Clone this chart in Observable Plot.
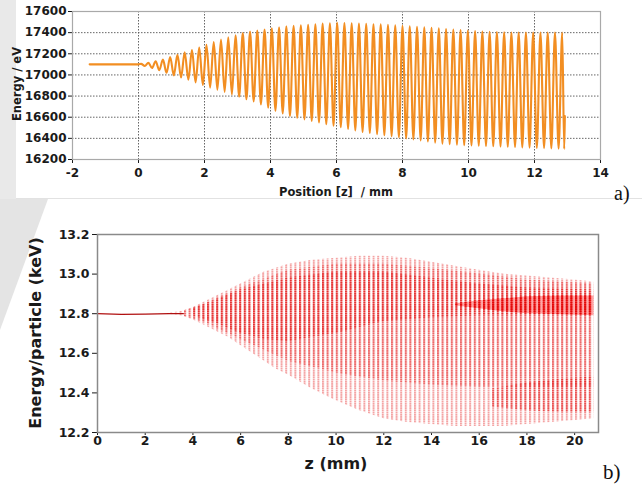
<!DOCTYPE html>
<html>
<head>
<meta charset="utf-8">
<script src="https://cdn.jsdelivr.net/npm/d3@7"></script>
<script src="https://cdn.jsdelivr.net/npm/@observablehq/plot@0.6"></script>
<style>
  html, body { margin: 0; padding: 0; background: #fff; }
  #page { position: relative; width: 642px; height: 485px; overflow: hidden; background: #fff; }
  .abs { position: absolute; left: 0; top: 0; }
  #boxA { position: absolute; left: 16px; top: 0; width: 626px; height: 198px; background: #fff; border-bottom: 1px solid #e2e2e2; }
  #plotA { position: absolute; left: 0; top: 0; }
  #plotB { position: absolute; left: 0; top: 205px; }
  #overlay { position: absolute; left: 0; top: 0; pointer-events: none; }
</style>
</head>
<body>
<div id="page">
  <svg class="abs" width="642" height="485">
    <polygon points="0,0 16,0 16,199 0,199" fill="#e9e9e9"/>
    <polygon points="0,199 48,199 0,330" fill="#e4e4e4"/>
  </svg>
  <div id="boxA"></div>
  <div id="plotA"></div>
  <div id="plotB"></div>
  <svg id="overlay" width="642" height="485"></svg>
</div>
<script>
// ---------- Panel a data ----------
const aXTicks = [-2, 0, 2, 4, 6, 8, 10, 12, 14];
const aYTicks = [16200, 16400, 16600, 16800, 17000, 17200, 17400, 17600];

const aFlatZ = [-1.48, 0.0];
const aFlatE = [17100, 17100];

const aPeakZ = [0.08, 0.30, 0.52, 0.74, 0.96, 1.18, 1.40, 1.62, 1.84, 2.06, 2.28, 2.50, 2.72, 2.94, 3.16, 3.38, 3.60, 3.82, 4.04, 4.26, 4.48, 4.70, 4.92, 5.14, 5.36, 5.58, 5.80, 6.02, 6.24, 6.46, 6.68, 6.90, 7.12, 7.34, 7.56, 7.78, 8.00, 8.22, 8.44, 8.66, 8.88, 9.10, 9.32, 9.54, 9.76, 9.98, 10.20, 10.42, 10.64, 10.86, 11.08, 11.30, 11.52, 11.74, 11.96, 12.18, 12.40, 12.62, 12.84];
const aPeakE = [17105, 17115, 17130, 17145, 17170, 17190, 17215, 17235, 17260, 17285, 17310, 17335, 17355, 17375, 17395, 17410, 17420, 17430, 17440, 17450, 17460, 17465, 17470, 17475, 17480, 17485, 17488, 17492, 17490, 17488, 17485, 17483, 17480, 17478, 17475, 17470, 17465, 17460, 17455, 17450, 17445, 17440, 17435, 17430, 17425, 17420, 17415, 17410, 17408, 17405, 17403, 17400, 17400, 17400, 17400, 17400, 17400, 17400, 17400];

const aTroughZ = [0.19, 0.41, 0.63, 0.85, 1.07, 1.29, 1.51, 1.73, 1.95, 2.17, 2.39, 2.61, 2.83, 3.05, 3.27, 3.49, 3.71, 3.93, 4.15, 4.37, 4.59, 4.81, 5.03, 5.25, 5.47, 5.69, 5.91, 6.13, 6.35, 6.57, 6.79, 7.01, 7.23, 7.45, 7.67, 7.89, 8.11, 8.33, 8.55, 8.77, 8.99, 9.21, 9.43, 9.65, 9.87, 10.09, 10.31, 10.53, 10.75, 10.97, 11.19, 11.41, 11.63, 11.85, 12.07, 12.29, 12.51, 12.73, 12.90];
const aTroughE = [17085, 17065, 17045, 17020, 16995, 16975, 16955, 16930, 16905, 16880, 16860, 16840, 16815, 16795, 16770, 16750, 16720, 16690, 16660, 16635, 16610, 16595, 16580, 16565, 16550, 16535, 16520, 16505, 16490, 16475, 16460, 16450, 16440, 16430, 16420, 16410, 16400, 16390, 16380, 16370, 16360, 16350, 16345, 16340, 16335, 16332, 16330, 16328, 16325, 16322, 16320, 16318, 16315, 16313, 16310, 16308, 16305, 16303, 16300];

const aEndZ = [12.92];
const aEndE = [16610];

// ---------- Panel b data ----------
const bXTicks = [0, 2, 4, 6, 8, 10, 12, 14, 16, 18, 20];
const bYTicks = [12.2, 12.4, 12.6, 12.8, 13.0, 13.2];

const bFlatZ = [0.0, 1.0, 2.0, 3.0, 3.6];
const bFlatE = [12.800, 12.797, 12.798, 12.800, 12.800];

const bEnvZ    = [3.0, 3.5, 4.0, 4.5, 5.0, 5.5, 6.0, 6.5, 7.0, 7.5, 8.0, 9.0, 10.0, 11.0, 12.0, 13.0, 14.0, 15.0, 16.0, 17.0, 18.0, 19.0, 20.0, 20.8];
const bEnvHigh = [12.803, 12.81, 12.83, 12.86, 12.89, 12.92, 12.95, 12.98, 13.01, 13.03, 13.05, 13.07, 13.08, 13.09, 13.09, 13.08, 13.06, 13.04, 13.02, 13.00, 12.99, 12.98, 12.97, 12.96];
const bEnvLow  = [12.797, 12.79, 12.77, 12.74, 12.71, 12.68, 12.64, 12.60, 12.56, 12.52, 12.49, 12.42, 12.36, 12.31, 12.27, 12.25, 12.24, 12.23, 12.23, 12.23, 12.24, 12.25, 12.26, 12.27];

const bMidZ    = [3.5, 4.5, 6.0, 8.0, 10.0, 12.0, 14.0, 16.0, 18.0, 20.8];
const bMidHigh = [12.808, 12.85, 12.93, 13.02, 13.05, 13.05, 13.03, 13.00, 12.97, 12.95];
const bMidLow  = [12.792, 12.755, 12.67, 12.56, 12.50, 12.46, 12.44, 12.43, 12.43, 12.43];

const bCoreZ    = [4.0, 5.0, 6.0, 7.0, 8.0, 10.0, 12.0, 14.0, 16.0, 18.0, 20.8];
const bCoreHigh = [12.825, 12.87, 12.92, 12.95, 12.98, 13.01, 13.01, 12.98, 12.95, 12.93, 12.92];
const bCoreLow  = [12.79, 12.75, 12.70, 12.67, 12.66, 12.70, 12.76, 12.78, 12.79, 12.79, 12.79];

const bBandZ    = [15.0, 16.0, 17.0, 18.0, 19.5, 20.8];
const bBandHigh = [12.85, 12.865, 12.875, 12.885, 12.89, 12.89];
const bBandLow  = [12.84, 12.825, 12.81, 12.80, 12.795, 12.79];

const bLowZ    = [16.5, 18.0, 19.5, 20.8];
const bLowHigh = [12.42, 12.45, 12.47, 12.48];
const bLowLow  = [12.33, 12.31, 12.30, 12.30];

// ---------- build tables ----------
const aPoints = []
  .concat(aFlatZ.map((z, i) => ({z, e: aFlatE[i]})))
  .concat(aPeakZ.map((z, i) => ({z, e: aPeakE[i]})))
  .concat(aTroughZ.map((z, i) => ({z, e: aTroughE[i]})))
  .concat(aEndZ.map((z, i) => ({z, e: aEndE[i]})))
  .sort((p, q) => p.z - q.z);

const band = (Z, H, L) => Z.map((z, i) => ({z, hi: H[i], lo: L[i]}));
const bEnv = band(bEnvZ, bEnvHigh, bEnvLow);
const bMid = band(bMidZ, bMidHigh, bMidLow);
const bCore = band(bCoreZ, bCoreHigh, bCoreLow);
const bBand = band(bBandZ, bBandHigh, bBandLow);
const bLow = band(bLowZ, bLowHigh, bLowLow);
const bFlat = bFlatZ.map((z, i) => ({z, e: bFlatE[i]}));

const fmt = d => String(d);

// ---------- Panel a ----------
const plotA = Plot.plot({
  width: 642, height: 205,
  marginLeft: 72, marginRight: 42, marginTop: 11, marginBottom: 46,
  style: {fontFamily: "DejaVu Sans", fontSize: "12px", fontWeight: "bold", color: "#1a1a1a", background: "transparent"},
  x: {domain: [-2, 14], ticks: aXTicks, tickSize: 4, tickPadding: 5, tickFormat: fmt, label: null},
  y: {domain: [16200, 17600], ticks: aYTicks, tickSize: 4, tickPadding: 2, tickFormat: fmt, label: null},
  marks: [
    Plot.frame({fill: "#fff", stroke: "none"}),
    Plot.gridX(aXTicks, {stroke: "#555", strokeOpacity: 0.9, strokeDasharray: "1.5,1.5"}),
    Plot.gridY(aYTicks, {stroke: "#555", strokeOpacity: 0.9, strokeDasharray: "1.5,1.5"}),
    Plot.line(aPoints, {x: "z", y: "e", stroke: "#f28e22", strokeWidth: 2.1, curve: "monotone-x"}),
    Plot.frame({stroke: "#a9a9a9", strokeWidth: 1.2})
  ]
});
document.getElementById("plotA").appendChild(plotA);

// ---------- Panel b ----------
const plotB = Plot.plot({
  width: 642, height: 280,
  marginLeft: 97, marginRight: 44, marginTop: 29, marginBottom: 53,
  style: {fontFamily: "DejaVu Sans", fontSize: "12.5px", fontWeight: "bold", color: "#1a1a1a", background: "transparent"},
  x: {domain: [0, 21], ticks: bXTicks, tickSize: 3, tickPadding: 1, tickFormat: fmt, label: null},
  y: {domain: [12.2, 13.2], ticks: bYTicks, tickSize: 5, tickPadding: 3, tickFormat: d3.format(".1f"), label: null},
  marks: [
    Plot.areaY(bEnv, {x: "z", y1: "lo", y2: "hi", fill: "url(#bdots)", fillOpacity: 0.36}),
    Plot.areaY(bMid, {x: "z", y1: "lo", y2: "hi", fill: "url(#bdots)", fillOpacity: 0.36}),
    Plot.areaY(bCore, {x: "z", y1: "lo", y2: "hi", fill: "url(#bdots)", fillOpacity: 0.5}),
    Plot.areaY(bBand, {x: "z", y1: "lo", y2: "hi", fill: "#ff0000", fillOpacity: 0.35}),
    Plot.areaY(bBand, {x: "z", y1: "lo", y2: "hi", fill: "url(#bdots)", fillOpacity: 0.8}),
    Plot.areaY(bLow, {x: "z", y1: "lo", y2: "hi", fill: "url(#bdots)", fillOpacity: 0.5}),
    Plot.line(bFlat, {x: "z", y: "e", stroke: "#b01010", strokeWidth: 1.2}),
    Plot.frame({stroke: "#8a8a8a", strokeWidth: 1.5})
  ]
});
document.getElementById("plotB").appendChild(plotB);

// dotted stripe pattern for the particle columns
const defs = d3.select(plotB).insert("defs", ":first-child");
const pat = defs.append("pattern")
  .attr("id", "bdots").attr("patternUnits", "userSpaceOnUse")
  .attr("width", 4.6).attr("height", 2.2);
pat.append("rect").attr("x", 0).attr("y", 0).attr("width", 2).attr("height", 1.8).attr("fill", "#e00000");

// ---------- text overlay ----------
const ov = d3.select("#overlay");
const sans = "DejaVu Sans";
ov.append("text").attr("transform", "translate(17,84) rotate(-90)")
  .attr("text-anchor", "middle").attr("dominant-baseline", "central")
  .attr("font-family", sans).attr("font-weight", "bold").attr("font-size", 11.5).attr("fill", "#1a1a1a")
  .text("Energy / eV");
ov.append("text").attr("x", 336).attr("y", 192)
  .attr("text-anchor", "middle").attr("dominant-baseline", "central").style("white-space", "pre")
  .attr("font-family", sans).attr("font-weight", "bold").attr("font-size", 11.5).attr("fill", "#1a1a1a")
  .text("Position [z]  / mm");
ov.append("text").attr("x", 614).attr("y", 200)
  .attr("font-family", "Liberation Serif").attr("font-size", 20).attr("fill", "#111")
  .text("a)");
ov.append("text").attr("transform", "translate(35,333) rotate(-90)")
  .attr("text-anchor", "middle").attr("dominant-baseline", "central")
  .attr("font-family", sans).attr("font-weight", "bold").attr("font-size", 16).attr("fill", "#1a1a1a")
  .text("Energy/particle (keV)");
ov.append("text").attr("x", 336).attr("y", 463)
  .attr("text-anchor", "middle").attr("dominant-baseline", "central")
  .attr("font-family", sans).attr("font-weight", "bold").attr("font-size", 16).attr("fill", "#1a1a1a")
  .text("z (mm)");
ov.append("text").attr("x", 603).attr("y", 479)
  .attr("font-family", "Liberation Serif").attr("font-size", 21).attr("fill", "#111")
  .text("b)");
</script>
</body>
</html>
